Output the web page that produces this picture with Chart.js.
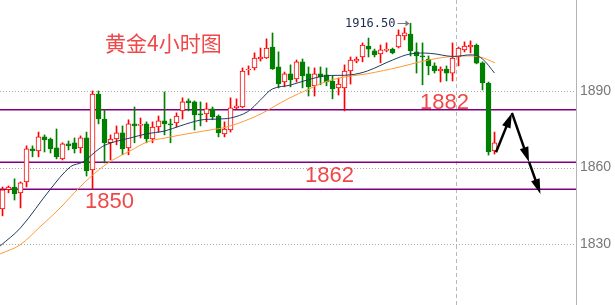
<!DOCTYPE html>
<html>
<head>
<meta charset="utf-8">
<title>黄金4小时图</title>
<script src="https://cdn.jsdelivr.net/npm/chart.js@4.4.0/dist/chart.umd.min.js"></script>
<style>
  html, body { margin: 0; padding: 0; background: #fff; }
  #wrap { position: relative; width: 615px; height: 305px; }
</style>
</head>
<body>
<div id="wrap"><canvas id="kline"></canvas></div>
<script>
// 4h gold candles (one per bar, left to right)
const opens = [1843.8, 1851.3, 1852.4, 1850.1, 1854.4, 1867.3, 1866.5, 1872.0, 1871.2, 1867.7,
  1863.4, 1869.3, 1869.7, 1867.7, 1871.6, 1859.1, 1888.8, 1879.0, 1869.7, 1871.2,
  1873.6, 1867.7, 1877.1, 1876.5, 1877.1, 1871.2, 1875.9, 1878.3, 1877.1, 1877.5,
  1882.2, 1886.1, 1885.7, 1881.0, 1881.0, 1883.0, 1880.2, 1873.2, 1874.7, 1883.4,
  1883.7, 1898.2, 1899.0, 1902.5, 1902.9, 1907.2, 1899.4, 1893.5, 1896.7, 1894.7,
  1901.4, 1896.7, 1892.0, 1896.7, 1896.3, 1893.9, 1891.2, 1891.2, 1897.8, 1901.7,
  1903.3, 1907.6, 1905.7, 1904.5, 1905.9, 1906.4, 1907.2, 1911.5, 1912.3, 1905.3,
  1903.7, 1902.5, 1899.8, 1897.8, 1898.6, 1897.0, 1903.3, 1906.1, 1907.2, 1908.0,
  1901.0, 1893.1, 1866.5];
const highs = [1852.4, 1852.8, 1855.6, 1854.4, 1868.5, 1868.5, 1873.9, 1872.8, 1871.6, 1875.1,
  1869.7, 1870.4, 1871.6, 1872.4, 1873.9, 1890.0, 1890.0, 1882.6, 1872.8, 1876.3,
  1876.3, 1878.7, 1883.7, 1879.4, 1877.9, 1877.9, 1880.2, 1889.6, 1879.0, 1881.4,
  1887.3, 1886.9, 1886.1, 1885.7, 1885.3, 1883.7, 1880.6, 1877.9, 1887.3, 1886.9,
  1899.0, 1899.8, 1904.9, 1906.8, 1910.4, 1912.7, 1905.3, 1897.4, 1900.2, 1902.1,
  1902.5, 1899.4, 1899.0, 1899.4, 1899.0, 1895.9, 1895.1, 1900.2, 1903.3, 1903.3,
  1908.8, 1910.7, 1906.4, 1908.0, 1908.8, 1906.8, 1913.9, 1914.7, 1916.5, 1908.8,
  1908.8, 1903.7, 1901.0, 1899.4, 1899.8, 1908.8, 1907.2, 1909.2, 1909.6, 1908.4,
  1901.4, 1893.5, 1873.9];
const lows = [1841.1, 1850.1, 1847.3, 1844.2, 1852.4, 1864.2, 1864.2, 1866.1, 1865.7, 1863.4,
  1863.0, 1866.9, 1865.7, 1865.7, 1856.7, 1851.6, 1877.1, 1861.8, 1863.0, 1868.9,
  1865.0, 1865.0, 1869.7, 1871.6, 1869.7, 1869.7, 1873.9, 1872.8, 1869.7, 1875.9,
  1879.0, 1882.2, 1874.7, 1876.3, 1877.9, 1878.7, 1872.0, 1872.0, 1873.9, 1883.0,
  1883.4, 1896.3, 1898.2, 1901.7, 1902.7, 1898.4, 1891.2, 1891.6, 1891.6, 1893.5,
  1891.2, 1888.0, 1888.0, 1892.4, 1892.0, 1886.9, 1888.4, 1882.2, 1892.7, 1901.0,
  1901.4, 1903.3, 1903.3, 1901.0, 1905.3, 1904.5, 1906.8, 1910.0, 1903.7, 1897.0,
  1892.4, 1896.3, 1897.0, 1893.5, 1893.9, 1893.9, 1899.8, 1905.3, 1904.9, 1900.6,
  1890.4, 1864.9, 1865.3];
const closes = [1851.3, 1852.4, 1849.7, 1854.0, 1867.3, 1866.5, 1872.0, 1870.8, 1867.3, 1864.2,
  1869.3, 1868.5, 1867.3, 1871.6, 1858.7, 1888.8, 1879.0, 1869.7, 1871.2, 1873.6,
  1867.3, 1877.1, 1876.3, 1876.9, 1871.2, 1875.9, 1878.3, 1877.1, 1876.7, 1880.2,
  1885.7, 1885.3, 1880.6, 1880.6, 1883.0, 1879.8, 1873.6, 1875.1, 1883.4, 1884.1,
  1897.8, 1898.6, 1902.9, 1903.3, 1906.8, 1898.6, 1892.7, 1896.7, 1894.3, 1901.4,
  1895.9, 1891.6, 1896.7, 1895.5, 1893.5, 1890.8, 1892.7, 1897.8, 1902.1, 1902.5,
  1908.0, 1906.4, 1904.1, 1906.1, 1906.3, 1904.9, 1911.9, 1912.7, 1905.7, 1903.7,
  1903.3, 1899.8, 1897.8, 1898.6, 1897.0, 1902.9, 1906.8, 1907.6, 1908.0, 1900.9,
  1893.1, 1866.1, 1869.7];

// moving averages, sampled along the drawn curves (bar index, price)
const maFastIdx = [-0.4, 3, 8, 11.3, 13.4, 16.3, 18, 21.3, 24, 27, 29.6, 33, 35.8, 38, 40.8,
  43, 45, 48, 50.8, 53.8, 58, 60.8, 65, 68, 71.3, 75, 78.4, 80, 82];
const maFast = [1829.3, 1836.4, 1851.6, 1860.3, 1862.2, 1867.7, 1869.6, 1871.6, 1873.2, 1874.3,
  1876.3, 1878.6, 1879.0, 1879.4, 1881.8, 1886.5, 1890.8, 1892.3, 1894.3, 1895.9,
  1896.3, 1897.8, 1902.1, 1904.5, 1904.7, 1903.5, 1904.1, 1902.5, 1897.0];
const maSlowIdx = [-0.4, 2.9, 6.25, 9.6, 12.9, 16.25, 18.4, 21.25, 24.1, 27.1, 31.75, 34.6, 37.4,
  40.4, 43.4, 45.1, 47.9, 50.75, 53.75, 57.1, 60.75, 66.25, 69.6, 73.4, 77.4, 79.6, 82.1];
const maSlow = [1826.2, 1829.7, 1836.8, 1844.2, 1852.4, 1859.5, 1863.0, 1866.5, 1870.0, 1871.6,
  1873.6, 1874.7, 1875.9, 1878.3, 1881.4, 1883.7, 1887.3, 1890.4, 1893.5, 1895.5,
  1896.7, 1899.4, 1901.4, 1903.1, 1903.7, 1903.3, 1901.0];

const yTicks = [1830, 1860, 1890];
const levels = [1882.6, 1862.1, 1851.5];
const levelLabels = ["1882", "1862", "1850"];
const peakIndex = 68;
const peakValue = 1916.5;
const sessionBreak = 75.6;
// hand-drawn projection arrows (bar index, price)
const pathIdx = [82.25, 84.9, 87.75, 89.65];
const pathVals = [1866.0, 1881.4, 1862.2, 1849.7];

const UP = "#ff0000";
const DOWN = "#008000";
const LABEL_RED = "#f04848";

function isUp(i) {
  return closes[i] >= opens[i];
}

const bodies = opens.map((o, i) => ({ x: i, y: [o, closes[i]] }));
const wicks = lows.map((l, i) => ({ x: i, y: [l, highs[i]] }));

function drawArrow(ctx, x0, y0, x1, y1) {
  const ang = Math.atan2(y1 - y0, x1 - x0);
  const len = 15, half = 4.5;
  const cos = Math.cos(ang), sin = Math.sin(ang);
  const bx = x1 - len * cos, by = y1 - len * sin;
  ctx.beginPath();
  ctx.moveTo(x0, y0);
  ctx.lineTo(bx + 4 * cos, by + 4 * sin);
  ctx.stroke();
  ctx.beginPath();
  ctx.moveTo(x1, y1);
  ctx.lineTo(bx + half * sin, by - half * cos);
  ctx.lineTo(bx - half * sin, by + half * cos);
  ctx.closePath();
  ctx.fill();
}

const overlay = {
  id: "overlay",
  beforeDatasetsDraw(chart) {
    const { ctx, chartArea: a, scales: { x, y } } = chart;
    ctx.save();
    // dotted price grid
    ctx.strokeStyle = "#a8a8a8";
    ctx.lineWidth = 1;
    ctx.setLineDash([1, 2]);
    yTicks.forEach(function (v) {
      const gy = Math.round(y.getPixelForValue(v)) + 0.5;
      ctx.beginPath();
      ctx.moveTo(a.left, gy);
      ctx.lineTo(a.right, gy);
      ctx.stroke();
    });
    // session separator
    const bx = Math.round(x.getPixelForValue(sessionBreak)) + 0.5;
    ctx.strokeStyle = "#b8b8b8";
    ctx.setLineDash([4, 3]);
    ctx.beginPath();
    ctx.moveTo(bx, a.top);
    ctx.lineTo(bx, a.bottom);
    ctx.stroke();
    ctx.setLineDash([]);
    // support / resistance lines
    ctx.strokeStyle = "#800080";
    ctx.lineWidth = 1.5;
    levels.forEach(function (v) {
      const py = y.getPixelForValue(v);
      ctx.beginPath();
      ctx.moveTo(a.left, py);
      ctx.lineTo(a.right, py);
      ctx.stroke();
    });
    ctx.restore();
  },
  afterDraw(chart) {
    const { ctx, scales: { x, y } } = chart;
    ctx.save();

    // title
    ctx.fillStyle = LABEL_RED;
    ctx.font = '21px "Noto Sans CJK SC", sans-serif';
    ctx.textBaseline = "alphabetic";
    ctx.textAlign = "left";
    ctx.fillText("黄金4小时图", 105, 51);

    // level labels
    const spots = [{ i: 69.6, dy: -1 }, { i: 50.4, dy: 20 }, { i: 13.75, dy: 19 }];
    ctx.font = '22px "Liberation Sans", Arial, sans-serif';
    levels.forEach(function (v, k) {
      ctx.fillText(levelLabels[k], x.getPixelForValue(spots[k].i), y.getPixelForValue(v) + spots[k].dy);
    });

    // peak marker
    const hx = x.getPixelForValue(peakIndex);
    const hy = Math.round(y.getPixelForValue(peakValue)) + 0.5;
    ctx.strokeStyle = "#777";
    ctx.fillStyle = "#777";
    ctx.lineWidth = 1;
    ctx.beginPath();
    ctx.moveTo(hx - 13, hy);
    ctx.lineTo(hx - 2, hy);
    ctx.stroke();
    ctx.beginPath();
    ctx.moveTo(hx - 1, hy);
    ctx.lineTo(hx - 5, hy - 3);
    ctx.lineTo(hx - 5, hy + 3);
    ctx.closePath();
    ctx.fill();
    ctx.fillStyle = "#1b2b4d";
    ctx.font = '12px "DejaVu Sans Mono", monospace';
    ctx.textAlign = "right";
    ctx.textBaseline = "middle";
    ctx.fillText(peakValue.toFixed(2), hx - 15, hy);

    // projection arrows
    ctx.strokeStyle = "#000";
    ctx.fillStyle = "#000";
    ctx.lineWidth = 2.5;
    for (let k = 1; k < pathIdx.length; k++) {
      drawArrow(ctx,
        x.getPixelForValue(pathIdx[k - 1]), y.getPixelForValue(pathVals[k - 1]),
        x.getPixelForValue(pathIdx[k]), y.getPixelForValue(pathVals[k]));
    }
    ctx.restore();
  }
};

new Chart(document.getElementById("kline"), {
  type: "bar",
  data: {
    datasets: [
      {
        type: "line",
        label: "MA fast",
        data: maFastIdx.map((v, k) => ({ x: v, y: maFast[k] })),
        borderColor: "#1f3b63",
        borderWidth: 1,
        pointRadius: 0,
        tension: 0.35,
        order: 0
      },
      {
        type: "line",
        label: "MA slow",
        data: maSlowIdx.map((v, k) => ({ x: v, y: maSlow[k] })),
        borderColor: "#ff9a33",
        borderWidth: 1,
        pointRadius: 0,
        tension: 0.35,
        order: 0
      },
      {
        label: "body",
        data: bodies,
        barThickness: 5,
        grouped: false,
        borderWidth: 1,
        borderSkipped: false,
        backgroundColor: (c) => (isUp(c.dataIndex) ? "#ffffff" : DOWN),
        borderColor: (c) => (isUp(c.dataIndex) ? UP : DOWN),
        order: 1
      },
      {
        label: "wick",
        data: wicks,
        barThickness: 1,
        grouped: false,
        borderWidth: 0,
        backgroundColor: (c) => (isUp(c.dataIndex) ? UP : DOWN),
        order: 2
      }
    ]
  },
  options: {
    responsive: true,
    maintainAspectRatio: false,
    animation: false,
    layout: { padding: 0 },
    plugins: {
      legend: { display: false },
      tooltip: { enabled: false }
    },
    scales: {
      x: {
        type: "linear",
        display: false,
        offset: false,
        min: -0.42,
        max: 95.58
      },
      y: {
        position: "right",
        min: 1806.2,
        max: 1925.6,
        afterBuildTicks: function (scale) {
          scale.ticks = yTicks.map((v) => ({ value: v }));
        },
        afterFit: function (scale) {
          scale.width = 39;
          scale.paddingTop = 0;
          scale.paddingBottom = 0;
        },
        grid: { drawOnChartArea: false, drawTicks: false },
        border: { display: true, color: "#b4b4b4" },
        ticks: {
          padding: 4,
          color: "#777",
          font: { family: '"Liberation Sans Narrow", "Liberation Sans", sans-serif', size: 14 },
          callback: (v) => String(v)
        }
      }
    }
  },
  plugins: [overlay]
});
</script>
</body>
</html>
